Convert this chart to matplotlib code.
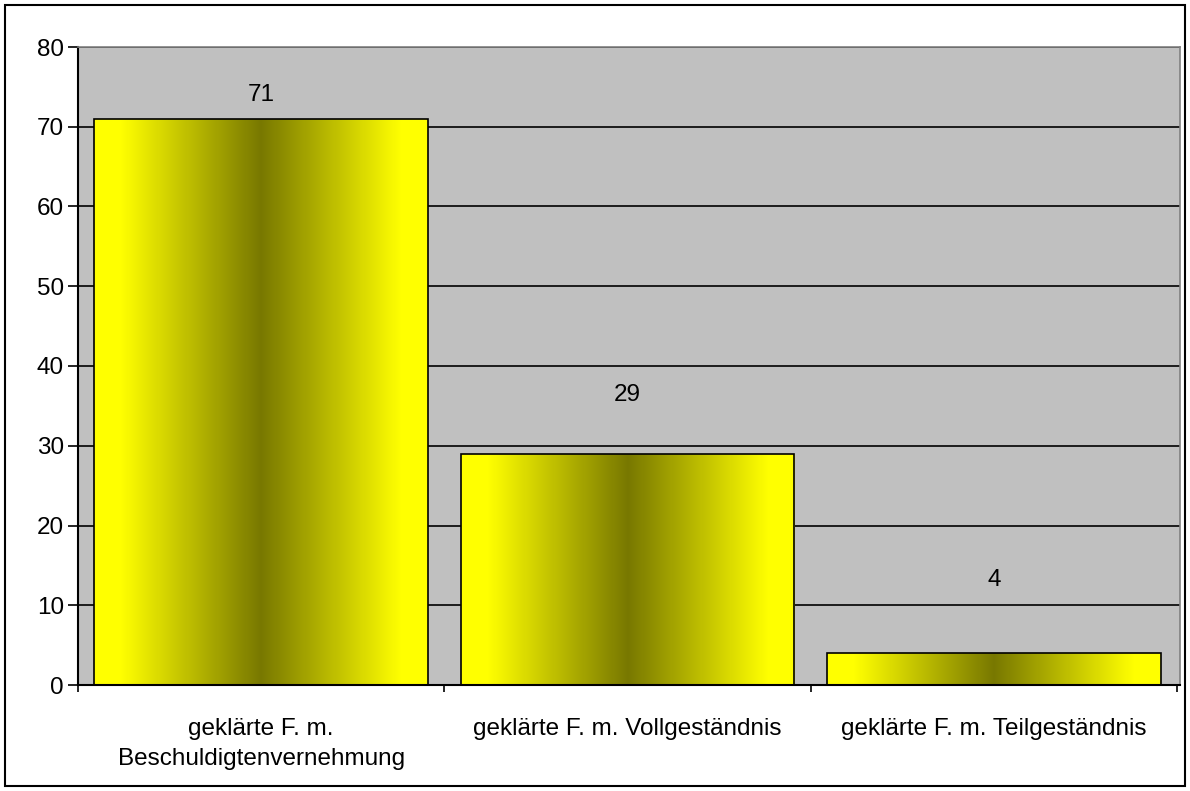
import matplotlib
matplotlib.use("Agg")
import matplotlib.pyplot as plt
from matplotlib.colors import LinearSegmentedColormap
from matplotlib.patches import Rectangle
import numpy as np

plt.rcParams["font.family"] = ["Liberation Sans", "DejaVu Sans"]

categories = ["geklärte F. m.\nBeschuldigtenvernehmung",
              "geklärte F. m. Vollgeständnis",
              "geklärte F. m. Teilgeständnis"]
values = [71, 29, 4]
# label heights as drawn in the original (not right on top of the bars)
label_y = [74.0, 36.4, 13.2]

fig = plt.figure(figsize=(11.9, 7.91), dpi=100)
ax = fig.add_axes([78 / 1190, 1 - 685 / 791, (1180 - 78) / 1190, (685 - 47) / 791])

# figure border
fig.patches.append(Rectangle((5 / 1190, 5 / 791), 1180 / 1190, 781 / 791,
                             transform=fig.transFigure, fill=False,
                             edgecolor="black", linewidth=1.5))

ax.set_facecolor("#C0C0C0")
ax.grid(axis="y", color="black", linewidth=1.2)
ax.set_axisbelow(True)

cmap = LinearSegmentedColormap.from_list(
    "ygrad", [(0.0, "#FFFF00"), (0.08, "#FFFF00"), (0.5, "#787800"),
              (0.92, "#FFFF00"), (1.0, "#FFFF00")])
grad = np.linspace(0, 1, 256).reshape(1, -1)

x = np.arange(len(values))
bars = ax.bar(x, values, width=0.91, facecolor="none", edgecolor="black",
              linewidth=1.2, zorder=3)
for b in bars:
    x0, w, h = b.get_x(), b.get_width(), b.get_height()
    im = ax.imshow(grad, cmap=cmap, aspect="auto", extent=(x0, x0 + w, 0, h),
                   zorder=2.5, interpolation="bilinear")
    im.set_clip_path(b)

ax.set_xlim(-0.5, 2.5 + 0.008)
ax.set_ylim(0, 80)
ax.set_yticks(range(0, 81, 10))

for xi, v, ly in zip(x, values, label_y):
    ax.text(xi, ly, str(v), ha="center", va="center", fontsize=17.5)

ax.set_xticks(x)
ax.set_xticklabels(categories, fontsize=17.5, linespacing=1.45)
ax.tick_params(axis="x", length=0, pad=24)
ax.set_xticks([-0.5, 0.5, 1.5, 2.5], minor=True)
ax.tick_params(axis="x", which="minor", length=5, width=1.2, direction="out")
ax.tick_params(axis="y", labelsize=17.5, length=7, width=1.2, pad=3)

for s in ["top", "right"]:
    ax.spines[s].set_color("#808080")
    ax.spines[s].set_linewidth(1.2)
for s in ["left", "bottom"]:
    ax.spines[s].set_color("black")
    ax.spines[s].set_linewidth(1.5)

fig.savefig("out.png", dpi=100)
